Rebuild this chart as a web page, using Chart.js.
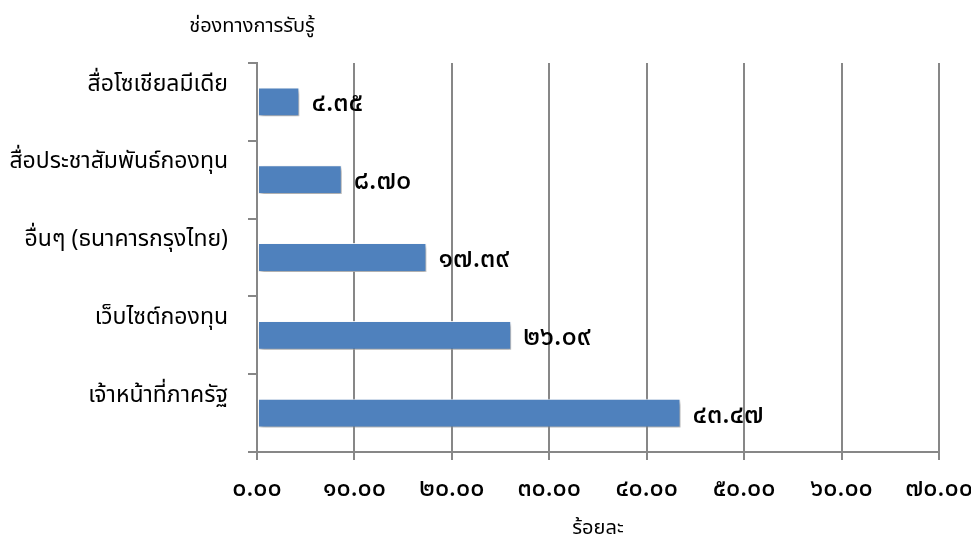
<!DOCTYPE html>
<html>
<head>
<meta charset="utf-8">
<script src="https://cdn.jsdelivr.net/npm/chart.js@4.4.1/dist/chart.umd.min.js"></script>
<style>
  html, body { margin: 0; padding: 0; background: #ffffff; }
  #wrap { width: 971px; height: 542px; position: relative; }
</style>
</head>
<body>
<div id="wrap"><canvas id="chart"></canvas></div>
<script>
// Awareness channels and their share (percent)
const channels = [
  'สื่อโซเชียลมีเดีย',
  'สื่อประชาสัมพันธ์กองทุน',
  'อื่นๆ (ธนาคารกรุงไทย)',
  'เว็บไซต์กองทุน',
  'เจ้าหน้าที่ภาครัฐ'
];
const percentages = [4.35, 8.70, 17.39, 26.09, 43.47];
const axisMin = 0;
const axisMax = 70;
const axisStep = 10;
const categoryAxisTitle = 'ช่องทางการรับรู้';
const valueAxisTitle = 'ร้อยละ';

const THAI_DIGITS = '๐๑๒๓๔๕๖๗๘๙';
const toThai = s => String(s).replace(/[0-9]/g, d => THAI_DIGITS[+d]);

const FONT = "Tahoma, 'Noto Sans Thai', 'Noto Sans', 'DejaVu Sans', sans-serif";
const GRID = '#878787';

// Soft drop shadow under the bars
const barShadow = {
  id: 'barShadow',
  beforeDatasetDraw(chart) {
    const ctx = chart.ctx;
    ctx.save();
    ctx.shadowColor = 'rgba(0,0,0,0.35)';
    ctx.shadowBlur = 4;
    ctx.shadowOffsetX = 2;
    ctx.shadowOffsetY = 3;
  },
  afterDatasetDraw(chart) {
    chart.ctx.restore();
  }
};

// Value labels beside each bar, plus the two axis titles
const annotations = {
  id: 'annotations',
  afterDatasetsDraw(chart) {
    const ctx = chart.ctx;
    const meta = chart.getDatasetMeta(0);
    ctx.save();
    ctx.fillStyle = '#000';
    ctx.font = "500 27px " + FONT;
    ctx.textAlign = 'left';
    ctx.textBaseline = 'middle';
    meta.data.forEach((bar, i) => {
      const v = chart.data.datasets[0].data[i];
      ctx.fillText(toThai(v.toFixed(2)), bar.x + 12, bar.y + 4);
    });

    const area = chart.chartArea;
    ctx.font = "20px " + FONT;
    ctx.textAlign = 'center';
    ctx.fillText(categoryAxisTitle, 252, 28);
    ctx.fillText(valueAxisTitle, (area.left + area.right) / 2, 530);
    ctx.restore();
  }
};

new Chart(document.getElementById('chart'), {
  type: 'bar',
  data: {
    labels: channels,
    datasets: [{
      data: percentages,
      backgroundColor: '#4F81BD',
      borderColor: 'rgba(255,255,255,0.85)',
      borderWidth: 1,
      borderSkipped: false,
      categoryPercentage: 1,
      barPercentage: 0.37
    }]
  },
  options: {
    indexAxis: 'y',
    responsive: true,
    maintainAspectRatio: false,
    animation: false,
    layout: { padding: { top: 63, right: 32, left: 0, bottom: 0 } },
    plugins: {
      legend: { display: false },
      tooltip: { enabled: false }
    },
    scales: {
      x: {
        type: 'linear',
        min: axisMin,
        max: axisMax,
        ticks: {
          stepSize: axisStep,
          color: '#000',
          font: { family: FONT, size: 25, weight: '500' },
          padding: 16,
          maxRotation: 0,
          autoSkip: false,
          callback: v => toThai(Number(v).toFixed(2))
        },
        grid: { color: GRID, lineWidth: 2, tickLength: 8, drawTicks: true },
        border: { color: GRID, width: 2 },
        afterFit(scale) {
          scale.height = 90;
          scale.paddingLeft = 0;
          scale.paddingRight = 0;
        }
      },
      y: {
        ticks: {
          color: '#000',
          font: { family: FONT, size: 23 },
          padding: 20,
          labelOffset: -16
        },
        grid: { drawOnChartArea: false, color: GRID, lineWidth: 2, tickLength: 9 },
        border: { color: GRID, width: 2 },
        afterFit(scale) { scale.width = 257; }
      }
    }
  },
  plugins: [barShadow, annotations]
});
</script>
</body>
</html>
